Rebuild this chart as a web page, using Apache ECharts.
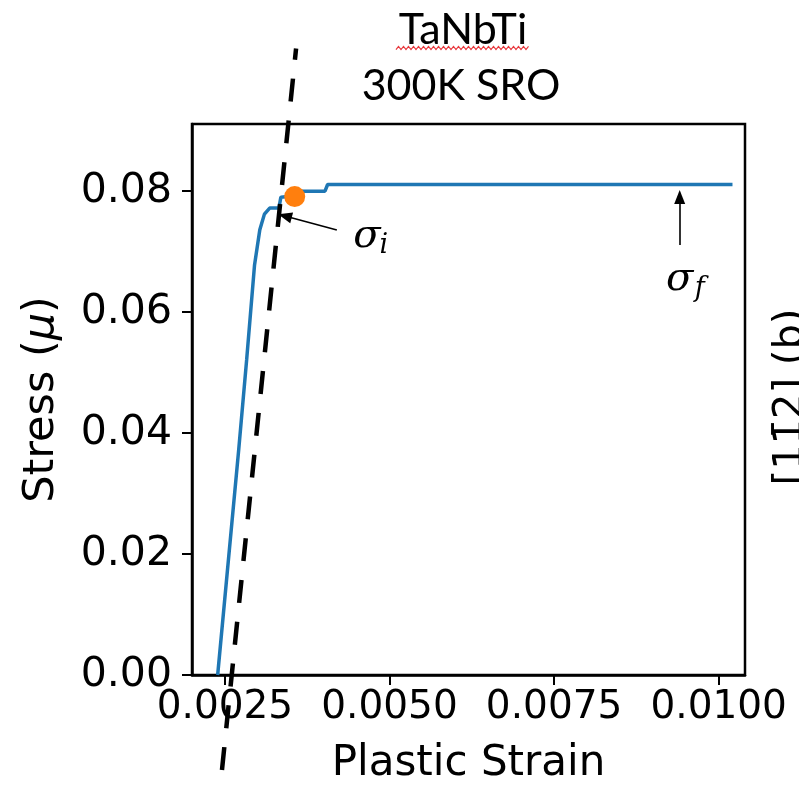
<!DOCTYPE html>
<html>
<head>
<meta charset="utf-8">
<script src="https://cdn.jsdelivr.net/npm/echarts@6/dist/echarts.min.js"></script>
<style>
  html, body { margin: 0; padding: 0; background: #fff; }
  #chart { width: 799px; height: 793px; }
</style>
</head>
<body>
<div id="chart"></div>
<script>
// Stress–strain curve of TaNbTi at 300 K with short-range order
const strain = [0.00239, 0.00271, 0.00283, 0.00295, 0.00303, 0.00310, 0.00318, 0.00332, 0.00335, 0.00345, 0.00364, 0.00402, 0.00406, 0.01021];
const stress = [0.0000, 0.0373, 0.0521, 0.0678, 0.0736, 0.0762, 0.0772, 0.0772, 0.0790, 0.0791, 0.0800, 0.0800, 0.0811, 0.0811];

// elastic (offset) guide line endpoints, top first
const guideStrain = [0.003581, 0.002454];
const guideStress = [0.1036, -0.01584];

// initial yield point
const yieldStrain = [0.00356];
const yieldStress = [0.0791];

// axis ticks
const xTicks = [0.0025, 0.0050, 0.0075, 0.0100];
const yTicks = [0.00, 0.02, 0.04, 0.06, 0.08];

// annotation arrows: [tailStrain, tailStress, headStrain, headStress]
const arrowSigmaI = [0.004200, 0.07357, 0.003411, 0.07588];
const arrowSigmaF = [0.009408, 0.07110, 0.009408, 0.07902];
// annotation text anchors (strain, stress)
const labelSigmaI = [0.004656, 0.07242];
const labelSigmaF = [0.009408, 0.06533];

const chart = echarts.init(document.getElementById('chart'), null, { renderer: 'canvas' });
const tickFont = 'DejaVu Sans';

const option = {
  animation: false,
  backgroundColor: '#ffffff',
  grid: { left: 192, right: 54, top: 124, bottom: 118, show: true, borderColor: '#000', borderWidth: 2.5, backgroundColor: 'transparent' },
  xAxis: {
    type: 'value', min: 0.0020, max: 0.0104,
    name: 'Plastic Strain', nameLocation: 'middle', nameGap: 68,
    nameTextStyle: { fontFamily: tickFont, fontSize: 42, color: '#000' },
    axisLine: { show: true, lineStyle: { color: '#000', width: 2.5 } },
    axisTick: { show: true, inside: false, length: 10, lineStyle: { color: '#000', width: 2 }, customValues: xTicks },
    axisLabel: { fontFamily: tickFont, fontSize: 39, color: '#000', margin: 13, customValues: xTicks,
      formatter: v => v.toFixed(4) },
    splitLine: { show: false }
  },
  yAxis: {
    type: 'value', min: 0, max: 0.0911,
    name: '{n|Stress (}{m|μ}{n|)}', nameLocation: 'middle', nameGap: 129, nameRotate: 90,
    nameTextStyle: { rich: {
      n: { fontFamily: tickFont, fontSize: 43, color: '#000' },
      m: { fontFamily: 'DejaVu Sans', fontStyle: 'italic', fontSize: 43, color: '#000' }
    } },
    axisLine: { show: true, lineStyle: { color: '#000', width: 2.5 } },
    axisTick: { show: true, inside: false, length: 10, lineStyle: { color: '#000', width: 2 }, customValues: yTicks },
    axisLabel: { fontFamily: tickFont, fontSize: 41, color: '#000', margin: 20, customValues: yTicks,
      formatter: v => v.toFixed(2) },
    splitLine: { show: false }
  },
  series: [
    {
      name: 'curve', type: 'line',
      data: strain.map((x, i) => [x, stress[i]]),
      showSymbol: false, symbol: 'none',
      lineStyle: { color: '#1f77b4', width: 3.5 },
      z: 2
    },
    {
      name: 'guide', type: 'line', clip: false,
      data: guideStrain.map((x, i) => [x, guideStress[i]]),
      showSymbol: false, symbol: 'none',
      lineStyle: { color: '#000', width: 4.5, type: [23, 19], dashOffset: 11.6 },
      z: 3
    },
    {
      name: 'yield', type: 'scatter',
      data: yieldStrain.map((x, i) => [x, yieldStress[i]]),
      symbolSize: 21,
      itemStyle: { color: '#ff7f0e', opacity: 1 },
      z: 4,
      markLine: {
        silent: true,
        symbol: ['none', 'triangle'],
        symbolSize: [11, 14],
        label: { show: false },
        lineStyle: { color: '#000', width: 1.6, type: 'solid' },
        data: [
          [{ coord: [arrowSigmaI[0], arrowSigmaI[1]] }, { coord: [arrowSigmaI[2], arrowSigmaI[3]] }],
          [{ coord: [arrowSigmaF[0], arrowSigmaF[1]] }, { coord: [arrowSigmaF[2], arrowSigmaF[3]] }]
        ]
      }
    }
  ]
};
chart.setOption(option);

// text overlays placed from data coordinates
function overlays() {
  const toPx = c => chart.convertToPixel({ gridIndex: 0 }, c);
  const pi = toPx(labelSigmaI);
  const pf = toPx(labelSigmaF);
  const mathStyle = { fontFamily: 'DejaVu Serif', fontStyle: 'italic', fill: '#000' };

  // red wavy spell-check underline under the first title line
  const wave = [];
  for (let x = 396, k = 0; x <= 530; x += 2.5, k++) wave.push([x, 48 + (k % 2 ? -1.6 : 1.6)]);

  chart.setOption({
    graphic: [
      { type: 'text', x: 463, y: 30, style: { text: 'TaNbTi', font: '43px Lato', fill: '#000', textAlign: 'center', textVerticalAlign: 'middle' } },
      { type: 'polyline', shape: { points: wave }, style: { stroke: '#e8383d', lineWidth: 1.2, fill: null } },
      { type: 'text', x: 461, y: 86, style: { text: '300K SRO', font: '43px Lato', fill: '#000', textAlign: 'center', textVerticalAlign: 'middle' } },

      { type: 'text', x: pi[0], y: pi[1], style: Object.assign({ text: 'σ', fontSize: 40, textAlign: 'center', textVerticalAlign: 'middle' }, mathStyle) },
      { type: 'text', x: pi[0] + 17, y: pi[1] + 9, style: Object.assign({ text: 'i', fontSize: 27, textAlign: 'center', textVerticalAlign: 'middle' }, mathStyle) },
      { type: 'text', x: pf[0], y: pf[1], style: Object.assign({ text: 'σ', fontSize: 40, textAlign: 'center', textVerticalAlign: 'middle' }, mathStyle) },
      { type: 'text', x: pf[0] + 20, y: pf[1] + 9, style: Object.assign({ text: 'f', fontSize: 27, textAlign: 'center', textVerticalAlign: 'middle' }, mathStyle) },

      // neighbouring panel's axis title, cut by the page edge
      { type: 'text', x: 772, y: 397, rotation: Math.PI / 2,
        style: { text: '[11\u03042] (b)', font: '40px "DejaVu Sans"', fill: '#000', textAlign: 'center', textVerticalAlign: 'top' } }
    ]
  });
}
overlays();
</script>
</body>
</html>
